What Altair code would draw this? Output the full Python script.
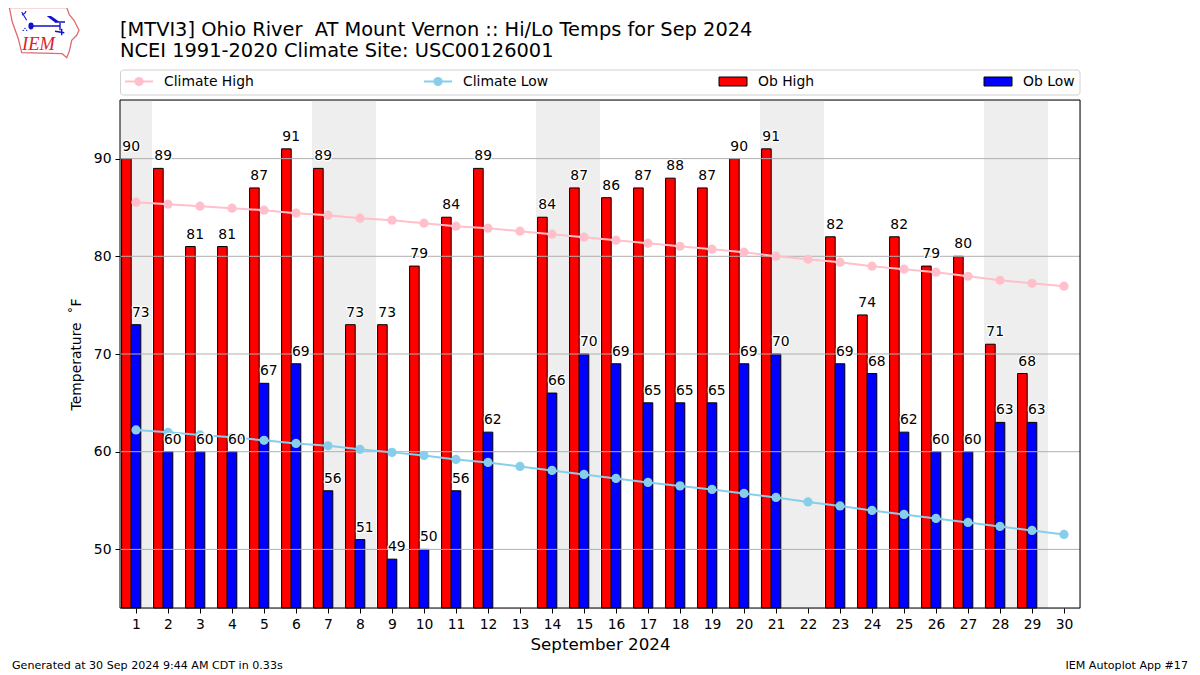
import altair as alt
import pandas as pd
from urllib.parse import quote

days = list(range(1, 31))
ob_high = [90,89,81,81,87,91,89,73,73,79,84,89,None,84,87,86,87,88,87,90,91,None,82,74,82,79,80,71,68,None]
ob_low = [73,60,60,60,67,69,56,51,49,50,56,62,None,66,70,69,65,65,65,69,70,None,69,68,62,60,60,63,63,None]
clim_high = [85.54,85.34,85.13,84.93,84.72,84.42,84.21,83.9,83.7,83.39,83.08,82.88,82.57,82.26,81.96,81.65,81.34,81.03,80.73,80.42,80.01,79.7,79.4,78.99,78.68,78.37,77.96,77.55,77.24,76.94]
clim_low = [62.23,61.98,61.72,61.47,61.16,60.85,60.6,60.24,59.93,59.62,59.21,58.9,58.49,58.08,57.67,57.26,56.85,56.5,56.14,55.73,55.32,54.86,54.45,53.99,53.58,53.17,52.76,52.35,51.94,51.53]
band_start = [0.5, 6.5, 13.5, 20.5, 27.5]
band_end = [1.5, 8.5, 15.5, 22.5, 29.5]
grid_values = [50, 60, 70, 80, 90]
title_lines = ["[MTVI3] Ohio River\u00a0 AT Mount Vernon :: Hi/Lo Temps for Sep 2024",
               "NCEI 1991-2020 Climate Site: USC00126001"]
footer_left = "Generated at 30 Sep 2024 9:44 AM CDT in 0.33s"
footer_right = "IEM Autoplot App #17"
x_title = "September 2024"
y_title = "Temperature \u00a0\u02daF"

FONT = "DejaVu Sans"
df = pd.DataFrame({"day": days, "high": ob_high, "low": ob_low, "ch": clim_high, "cl": clim_low})
df["h0"] = df.day - 0.45
df["mid"] = df.day - 0.15
df["l1"] = df.day + 0.15
hdf = df.dropna(subset=["high"])
ldf = df.dropna(subset=["low"])

xs = alt.Scale(domain=[0.5, 30.5], nice=False, zero=False)
ys = alt.Scale(domain=[44, 96], nice=False, zero=False)
x_axis = alt.Axis(values=days, format="d", grid=False, labelFont=FONT, labelFontSize=13.9, labelColor="black",
                  titleFont=FONT, titleFontSize=16.7, titleFontWeight="normal", titleColor="black",
                  tickColor="black", tickSize=5, domain=False, labelPadding=4, titlePadding=6, labelFlush=False)
y_axis = alt.Axis(values=grid_values, grid=False, labelFont=FONT, labelFontSize=13.9, labelColor="black",
                  titleFont=FONT, titleFontSize=13.9, titleFontWeight="normal", titleColor="black",
                  tickColor="black", tickSize=5, domain=False, labelPadding=4, titlePadding=10)
X = lambda f: alt.X(f"{f}:Q", scale=xs, axis=x_axis, title=x_title)
Y = lambda f: alt.Y(f"{f}:Q", scale=ys, axis=y_axis, title=y_title)

bands = alt.Chart(pd.DataFrame({"a": band_start, "b": band_end})).mark_rect(color="#eeeeee").encode(
    x=X("a"), x2="b:Q", y=alt.value(0), y2=alt.value(508))
hi_bars = alt.Chart(hdf).mark_rect(color="#ff0000", stroke="black", strokeWidth=1).encode(
    x=X("h0"), x2="mid:Q", y=Y("high"), y2=alt.Y2(datum=44))
lo_bars = alt.Chart(ldf).mark_rect(color="#0000ff", stroke="black", strokeWidth=1).encode(
    x=X("mid"), x2="l1:Q", y=Y("low"), y2=alt.Y2(datum=44))
grid = alt.Chart(pd.DataFrame({"g": grid_values})).mark_rule(color="#b0b0b0", strokeWidth=1).encode(y=Y("g"))

def clim(field, color):
    line = alt.Chart(df).mark_line(color=color, strokeWidth=2).encode(x=X("day"), y=Y(field))
    pts = alt.Chart(df).mark_point(color=color, filled=True, opacity=1, size=85).encode(x=X("day"), y=Y(field))
    return line + pts

def labels(d, xf, yf):
    base = alt.Chart(d).encode(x=X(xf), y=Y(yf), text=alt.Text(f"{yf}:Q", format="d"))
    halo = base.mark_text(font=FONT, fontSize=13.9, baseline="bottom", dy=-5, align="center",
                          stroke="white", strokeWidth=2.5, fill="white", strokeJoin="round")
    txt = base.mark_text(font=FONT, fontSize=13.9, baseline="bottom", dy=-5, align="center", color="black")
    return halo + txt

frame = alt.Chart(pd.DataFrame({"f": [0]})).mark_rect(fillOpacity=0, stroke="black", strokeWidth=1).encode(
    x=alt.value(0), x2=alt.value(960), y=alt.value(0), y2=alt.value(508))

one = alt.Data(values=[{"f": 0}])
legend_box = alt.Chart(one).mark_rect(fill="white", stroke="#d0d0d0", strokeWidth=1, cornerRadius=3).encode(
    x=alt.value(0.5), x2=alt.value(960), y=alt.value(-30), y2=alt.value(-5))
def leg_text(t, x):
    return alt.Chart(one).mark_text(text=t, font=FONT, fontSize=13.9, align="left", baseline="middle", color="black").encode(
        x=alt.value(x), y=alt.value(-18.5))
def leg_line(color, x):
    l = alt.Chart(one).mark_rule(color=color, strokeWidth=2).encode(x=alt.value(x), x2=alt.value(x + 28), y=alt.value(-18.5))
    p = alt.Chart(one).mark_point(color=color, filled=True, opacity=1, size=85).encode(x=alt.value(x + 14), y=alt.value(-18.5))
    return l + p
def leg_bar(color, x):
    return alt.Chart(one).mark_rect(color=color, stroke="black", strokeWidth=1).encode(
        x=alt.value(x), x2=alt.value(x + 28), y=alt.value(-23), y2=alt.value(-14))
legend = (legend_box + leg_line("#ffc0cb", 5) + leg_text("Climate High", 44)
          + leg_line("#87ceeb", 304) + leg_text("Climate Low", 343)
          + leg_bar("#ff0000", 599) + leg_text("Ob High", 638)
          + leg_bar("#0000ff", 864) + leg_text("Ob Low", 903))

foot_l = alt.Chart(one).mark_text(text=footer_left, font=FONT, fontSize=11.1, align="left", baseline="middle", color="black").encode(
    x=alt.value(-108), y=alt.value(566))
foot_r = alt.Chart(one).mark_text(text=footer_right, font=FONT, fontSize=11.1, align="right", baseline="middle", color="black").encode(
    x=alt.value(1068), y=alt.value(566))

logo_svg = ("<svg xmlns='http://www.w3.org/2000/svg' width='72' height='54' viewBox='-1 -1 72 54'>"
    "<path d='M0.3 1.5 L57.7 1.5 L60.3 8.7 L65 14.3 L70 24.3 L67.7 29.3 L62.7 34.3 L61.3 41 L60 46 L57.7 51.7 L53.3 47.7 L12.7 46.7 L9.3 32.7 L3.3 16 Z' "
    "fill='none' stroke='#e06a70' stroke-width='1.3'/>"
    "<path d='M12.7 6 L17.7 14.3 M13 9 L16 7 L17 5' fill='none' stroke='#2020d8' stroke-width='1.2'/>"
    "<ellipse cx='22' cy='20' rx='2.6' ry='3.4' fill='#1010d0'/>"
    "<path d='M22 20 L51 20 M51 17 L51 24.3 M46 25.3 L55.3 26.7 M52.7 22.7 L52.7 29.3 M46 16 L56 16' fill='none' stroke='#1010d0' stroke-width='1.4'/>"
    "<path d='M37.7 10 L42 10 L50 15.5 L46 16.5 Z' fill='#1010d0'/>"
    "<path d='M16 21.5 L17 23 L15 23 Z M14.3 23.5 L15.3 25 L13.3 25 Z M17.7 23.5 L18.7 25 L16.7 25 Z' fill='#2020d8'/>"
    "</svg>")
logo = alt.Chart(one).mark_image(url="data:image/svg+xml," + quote(logo_svg), width=72, height=54, align="left", baseline="top").encode(
    x=alt.value(-112), y=alt.value(-95))
logo_text = alt.Chart(one).mark_text(text="IEM", font="Liberation Serif", fontStyle="italic", fontSize=18.5, align="left", baseline="middle", color="#d8232a").encode(
    x=alt.value(-98), y=alt.value(-56))

chart = alt.layer(
    bands, hi_bars, lo_bars, grid,
    clim("ch", "#ffc0cb"), clim("cl", "#87ceeb"),
    labels(hdf, "mid", "high"), labels(ldf, "l1", "low"),
    frame, legend, foot_l, foot_r, logo, logo_text,
).properties(
    width=960, height=508,
    title=alt.TitleParams(text=title_lines, anchor="start", font=FONT, fontSize=19.4, fontWeight="normal",
                          color="black", lineHeight=21, frame="group", offset=0, dy=56),
    autosize=alt.AutoSizeParams(type="none"),
    padding={"left": 112, "top": 92, "right": 112, "bottom": 64},
).configure_view(stroke=None).configure(background="white")

chart.save("out.html", embed_options={"renderer": "svg", "actions": False})
